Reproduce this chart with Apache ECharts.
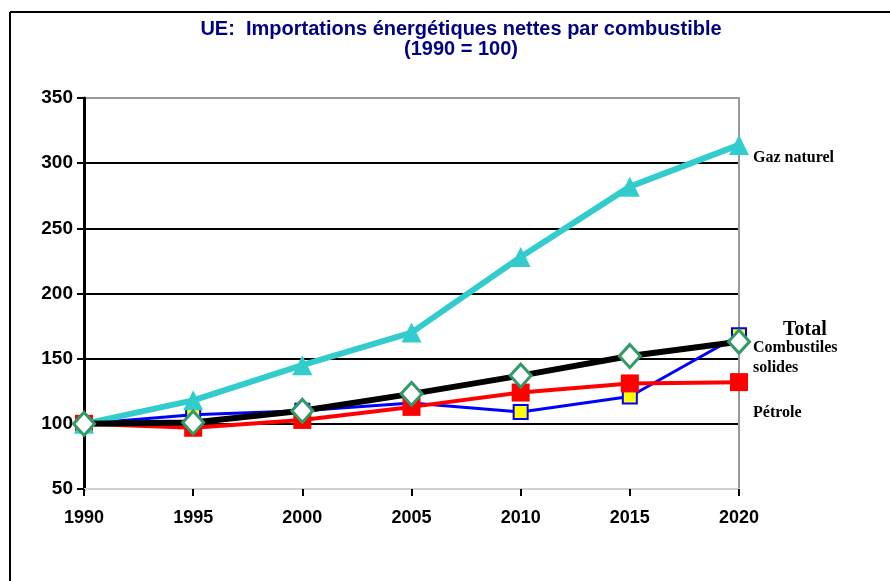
<!DOCTYPE html>
<html>
<head>
<meta charset="utf-8">
<script src="https://cdn.jsdelivr.net/npm/echarts@6/dist/echarts.min.js"></script>
<style>
html, body { margin: 0; padding: 0; background: #fff; }
#chart { width: 890px; height: 581px; }
</style>
</head>
<body>
<div id="chart"></div>
<script>
var years = ['1990', '1995', '2000', '2005', '2010', '2015', '2020'];
var gazData = [100, 118, 145, 170, 228, 282, 314];
var solidesData = [100, 107, 110, 116, 109, 121, 168];
var petroleData = [100, 97, 103, 113, 124, 131, 132];
var totalData = [100, 101, 110, 123, 137, 152, 163];

function endLabel(text, size, offset) {
    return {
        show: true,
        formatter: text,
        fontFamily: 'Liberation Serif',
        fontWeight: 'bold',
        fontSize: size,
        lineHeight: 20,
        color: '#000',
        align: 'left',
        distance: 0,
        offset: offset
    };
}

var chart = echarts.init(document.getElementById('chart'));
var option = {
    backgroundColor: '#fff',
    animation: false,
    title: {
        text: 'UE:  Importations énergétiques nettes par combustible\n(1990 = 100)',
        left: 456,
        top: 14,
        textAlign: 'center',
        textStyle: {
            fontFamily: 'Liberation Sans',
            fontWeight: 'bold',
            fontSize: 20,
            lineHeight: 20,
            color: '#000080'
        }
    },
    // cadre de la page
    graphic: [
        { type: 'line', shape: { x1: 10, y1: 12, x2: 890, y2: 12 }, style: { stroke: '#000', lineWidth: 2 } },
        { type: 'line', shape: { x1: 10, y1: 12, x2: 10, y2: 581 }, style: { stroke: '#000', lineWidth: 2 } }
    ],
    grid: { left: 84, right: 151, top: 98, bottom: 92 },
    xAxis: {
        type: 'category',
        data: years,
        boundaryGap: false,
        axisLine: { lineStyle: { color: '#d0d0d0', width: 2 } },
        axisTick: { show: true, length: 7, lineStyle: { color: '#000', width: 2 } },
        axisLabel: { fontFamily: 'Liberation Sans', fontWeight: 'bold', fontSize: 18, color: '#000', margin: 20 },
        splitLine: { show: false }
    },
    yAxis: [
        {
            type: 'value',
            min: 50,
            max: 350,
            interval: 50,
            axisLine: { show: true, lineStyle: { color: '#000', width: 3 } },
            axisTick: { show: true, length: 7, lineStyle: { color: '#000', width: 2 } },
            axisLabel: { fontFamily: 'Liberation Sans', fontWeight: 'bold', fontSize: 19, color: '#000', margin: 11 },
            splitLine: {
                show: true,
                lineStyle: { color: ['#d0d0d0', '#000', '#000', '#000', '#000', '#000', '#999'], width: 2 }
            }
        },
        {
            type: 'value',
            position: 'right',
            min: 50,
            max: 350,
            interval: 50,
            axisLine: { show: true, lineStyle: { color: '#999', width: 2 } },
            axisTick: { show: false },
            axisLabel: { show: false },
            splitLine: { show: false }
        }
    ],
    series: [
        {
            name: 'Combustibles solides',
            type: 'line',
            data: solidesData,
            z: 2,
            symbol: 'rect',
            symbolSize: 14,
            itemStyle: { color: '#ffff00', borderColor: '#0000ff', borderWidth: 2 },
            lineStyle: { color: '#0000ff', width: 3 },
            endLabel: endLabel('Combustiles\nsolides', 16, [14, 23])
        },
        {
            name: 'Pétrole',
            type: 'line',
            data: petroleData,
            z: 3,
            symbol: 'rect',
            symbolSize: 18,
            itemStyle: { color: '#ff0000', borderWidth: 0 },
            lineStyle: { color: '#ff0000', width: 4 },
            endLabel: endLabel('Pétrole', 16, [14, 31])
        },
        {
            name: 'Gaz naturel',
            type: 'line',
            data: gazData,
            z: 4,
            symbol: 'triangle',
            symbolSize: 20,
            itemStyle: { color: '#33cccc', borderWidth: 0 },
            lineStyle: { color: '#33cccc', width: 6 },
            endLabel: endLabel('Gaz naturel', 16, [14, 13])
        },
        {
            name: 'Total',
            type: 'line',
            data: totalData,
            z: 5,
            symbol: 'diamond',
            symbolSize: [21, 23],
            itemStyle: { color: '#ffffff', borderColor: '#339966', borderWidth: 3 },
            lineStyle: { color: '#000000', width: 6 },
            endLabel: endLabel('Total', 20, [44, -12])
        }
    ]
};
chart.setOption(option);
</script>
</body>
</html>
